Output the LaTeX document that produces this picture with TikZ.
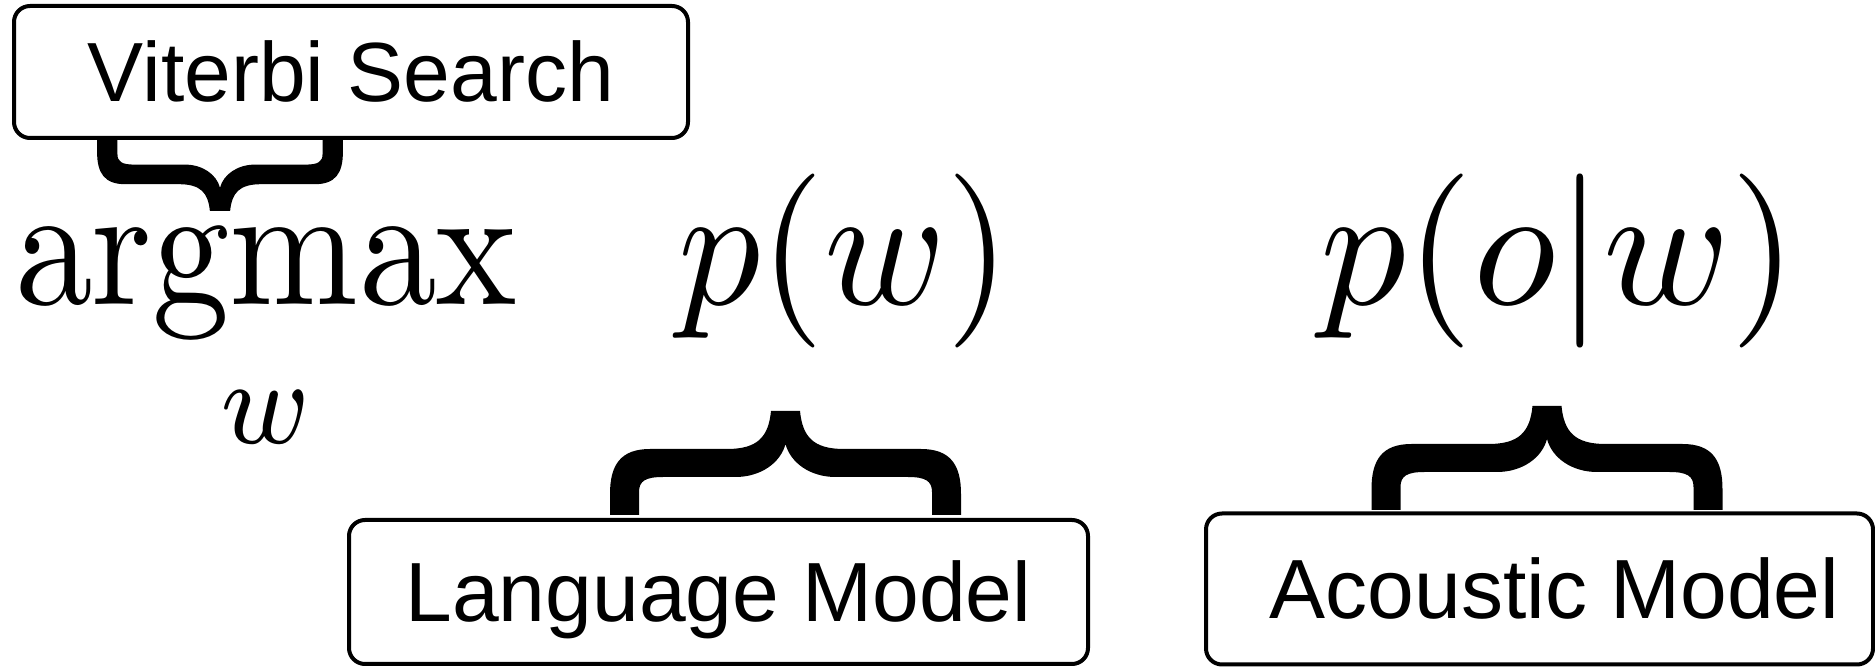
\documentclass[tikz,border=0pt]{standalone}
\usepackage{amsmath}
\usepackage{graphicx}
\usepackage[no-math]{fontspec}
\newfontfamily\labelfont{Liberation Sans}

\tikzset{
labelbox/.style={
  draw,
  line width=2pt,
  rounded corners=8pt,
  fill=white,
  inner sep=0pt,
  text height=30pt,
  text depth=0pt,
  font=\labelfont\fontsize{42}{50}\selectfont
  },
formula/.style={
  inner sep=0pt
  },
curly/.pic={
  \fill (-175.5,0) -- (-175.5,-21)
    .. controls (-175.5,-50) and (-165,-66) .. (-135.5,-66)
    -- (-58.5,-66)
    .. controls (-28,-66) and (-17,-78) .. (-14.5,-104)
    -- (14.5,-104)
    .. controls (17,-78) and (28,-66) .. (58.5,-66)
    -- (135.5,-66)
    .. controls (165,-66) and (175.5,-50) .. (175.5,-21)
    -- (175.5,0) -- (146.5,0) -- (146.5,-23)
    .. controls (146.5,-34) and (140,-38) .. (122.5,-38)
    -- (50,-38)
    .. controls (25,-38) and (5,-52) .. (0,-71)
    .. controls (-5,-52) and (-25,-38) .. (-50,-38)
    -- (-122.5,-38)
    .. controls (-140,-38) and (-146.5,-34) .. (-146.5,-23)
    -- (-146.5,0) -- cycle;
  }
}
\newcommand{\hugeeq}[2][8.7]{\scalebox{#1}[8.7]{$\displaystyle #2$}}

\begin{document}
\begin{tikzpicture}[x=0.5pt,y=-0.5pt]
\useasboundingbox (0,0) rectangle (1875,667);

\node[formula,anchor=base] (argmax) at (266,305) {\hugeeq[7.73]{\operatorname*{argmax}_{w}}};
\node[formula,anchor=base] (pw) at (844,305) {\hugeeq[8.2]{p(w)}};
\node[formula,anchor=base] (pow) at (1559,305) {\hugeeq[8.55]{p(o|w)}};

% braces
\pic[xscale=0.7,yscale=-0.7] at (220,138) {curly};
\pic at (785.5,515) {curly};
\pic at (1547,510) {curly};

\node[labelbox,minimum width=337pt,minimum height=66pt] (viterbi) at (351,72) {Viterbi Search};
\node[labelbox,minimum width=369.5pt,minimum height=72pt] (lm) at (718.5,592) {Language Model};
\node[labelbox,minimum width=333.5pt,minimum height=75.5pt] (am) at (1539.5,589) {\hspace*{15pt}Acoustic Model};
\end{tikzpicture}
\end{document}
